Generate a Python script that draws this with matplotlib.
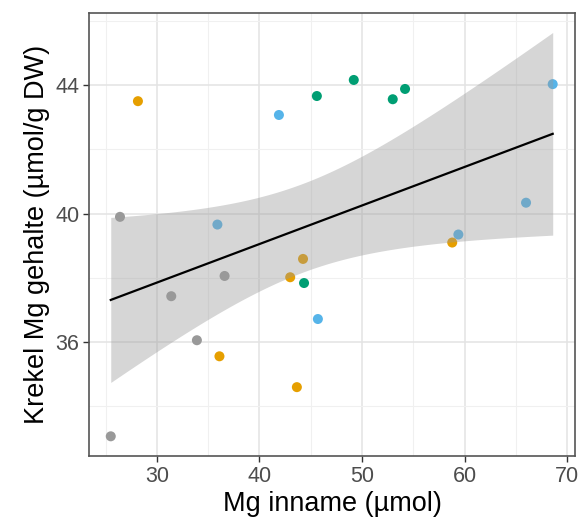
import numpy as np
import matplotlib
matplotlib.use("Agg")
import matplotlib.pyplot as plt

plt.rcParams['font.family'] = ['Liberation Sans', 'DejaVu Sans']

# data per group
gray_x = [25.5, 26.4, 31.4, 33.9, 36.6]
gray_y = [33.07, 39.9, 37.43, 36.06, 38.06]
orange_x = [28.15, 36.1, 43.65, 43.0, 44.25, 58.8]
orange_y = [43.5, 35.56, 34.6, 38.02, 38.59, 39.1]
green_x = [44.35, 45.6, 49.2, 53.0, 54.2]
green_y = [37.84, 43.66, 44.16, 43.56, 43.88]
blue_x = [41.9, 35.9, 45.7, 59.4, 66.0, 68.6]
blue_y = [43.07, 39.66, 36.72, 39.35, 40.34, 44.03]

groups = [
    (gray_x, gray_y, '#999999'),
    (blue_x, blue_y, '#56B4E9'),
    (orange_x, orange_y, '#E69F00'),
    (green_x, green_y, '#009E73'),
]

x_ticks = [30, 40, 50, 60, 70]
y_ticks = [36, 40, 44]

fig = plt.figure(figsize=(5.85, 5.25), dpi=100)
ax = fig.add_axes([0.152, 0.131, 0.831, 0.844])

for gx, gy, c in groups:
    ax.scatter(gx, gy, s=52, color=c, edgecolors='none', zorder=2)

# linear fit with 95% CI
X = np.array(gray_x + orange_x + green_x + blue_x)
Y = np.array(gray_y + orange_y + green_y + blue_y)
n = len(X)
b, a = np.polyfit(X, Y, 1)
resid = Y - (a + b * X)
s = np.sqrt(np.sum(resid ** 2) / (n - 2))
xbar = X.mean()
Sxx = np.sum((X - xbar) ** 2)
tval = 2.086
xs = np.linspace(X.min(), X.max(), 200)
ys = a + b * xs
se = s * np.sqrt(1.0 / n + (xs - xbar) ** 2 / Sxx)
ax.fill_between(xs, ys - tval * se, ys + tval * se, color='#999999', alpha=0.4,
                linewidth=0, zorder=3)
ax.plot(xs, ys, color='black', linewidth=1.6, zorder=4)

ax.set_xlim(23.37, 70.78)
ax.set_ylim(32.45, 46.24)
ax.set_xticks(x_ticks)
ax.set_yticks(y_ticks)
ax.set_xticks([25, 35, 45, 55, 65], minor=True)
ax.set_yticks([34, 38, 42, 46], minor=True)
ax.grid(True, which='major', color='#E3E3E3', linewidth=1.1, zorder=0)
ax.grid(True, which='minor', color='#F0F0F0', linewidth=0.8, zorder=0)
ax.set_axisbelow(True)
ax.tick_params(which='minor', length=0)
ax.tick_params(which='major', length=4, width=1, color='#333333',
               labelsize=15.5, labelcolor='#4D4D4D', pad=3)
for sp in ax.spines.values():
    sp.set_color('#555555')
    sp.set_linewidth(1.2)

ax.set_xlabel('Mg inname (\u00b5mol)', fontsize=19.5, labelpad=3)
ax.set_ylabel('Krekel Mg gehalte (\u00b5mol/g DW)', fontsize=19.5, labelpad=4)

fig.savefig('out.png', dpi=100)
